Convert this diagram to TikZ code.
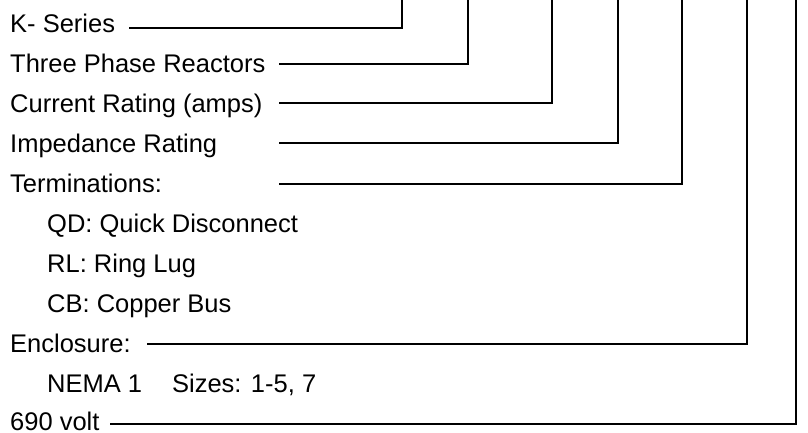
\documentclass[tikz,border=0pt]{standalone}
\usepackage{fontspec}
\setmainfont{Liberation Sans}
\usepackage{tikz}

\begin{document}
\begin{tikzpicture}[
    x=1pt, y=-1pt,
    item/.style={anchor=base west, inner sep=0pt, font=\fontsize{25.5}{30}\selectfont},
    lead/.style={draw, line width=1.6pt, line join=miter}
]
\useasboundingbox (0,0) rectangle (808,432);

% code fields
\node [item] (ks) at (10,32) {K- Series};
\node [item] (tp) at (10,72.5) {Three Phase Reactors};
\node [item] (cr) at (10,112) {Current Rating (amps)};
\node [item] (ir) at (10,152) {Impedance Rating};
\node [item] (tm) at (10,192) {Terminations:};
\node [item] (qd) at (47,232.5) {QD: Quick Disconnect};
\node [item] (rl) at (47,272) {RL: Ring Lug};
\node [item] (cb) at (47,312) {CB: Copper Bus};
\node [item] (en) at (10,352) {Enclosure:};
\node [item] (nm) at (47,392) {NEMA 1\hspace{30pt}Sizes: 1-5, 7};
\node [item] (vt) at (10,430) {690 volt};

% lead line ends
\coordinate (ks-a) at (129,28);
\coordinate (ks-b) at (402,0);
\coordinate (tp-a) at (279,64);
\coordinate (tp-b) at (468,0);
\coordinate (cr-a) at (279,103);
\coordinate (cr-b) at (552,0);
\coordinate (ir-a) at (279,143);
\coordinate (ir-b) at (618,0);
\coordinate (tm-a) at (279,184);
\coordinate (tm-b) at (682,0);
\coordinate (en-a) at (147,344);
\coordinate (en-b) at (747,0);
\coordinate (vt-a) at (110,424);
\coordinate (vt-b) at (796,0);

\draw [lead] (ks-a) -| (ks-b);
\draw [lead] (tp-a) -| (tp-b);
\draw [lead] (cr-a) -| (cr-b);
\draw [lead] (ir-a) -| (ir-b);
\draw [lead] (tm-a) -| (tm-b);
\draw [lead] (en-a) -| (en-b);
\draw [lead] (vt-a) -| (vt-b);
\end{tikzpicture}
\end{document}
